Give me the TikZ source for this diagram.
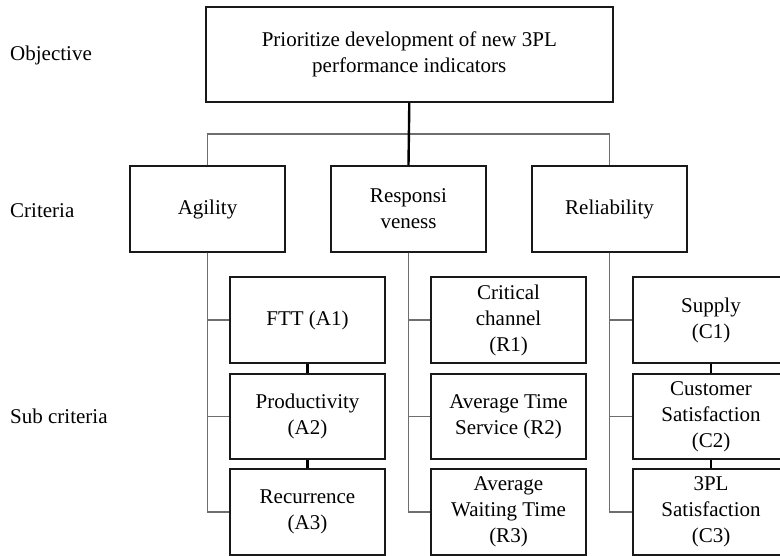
\documentclass[tikz,border=0pt]{standalone}
\usepackage{fontspec}
\setmainfont{Liberation Serif}
\begin{document}
\begin{tikzpicture}[x=1pt,y=-1pt,
  every node/.style={font=\fontsize{21}{26}\selectfont},
  box/.style={draw=black!90, line width=1.5pt, align=center, inner sep=0pt, minimum width=155pt},
  thinline/.style={draw={rgb,255:red,110;green,110;blue,110}, line width=1.1pt},
  thickline/.style={draw=black, line width=2.4pt},
  lbl/.style={anchor=west, inner sep=0pt}]
\clip (0,0) rectangle (780,556);
\useasboundingbox (0,0) rectangle (780,556);
% labels
\node[lbl] (lobj) at (10,55) {Objective};
\node[lbl] (lcrit) at (10,211) {Criteria};
\node[lbl] (lsub) at (10,416) {Sub criteria};
% top
\node[box, minimum width=407pt, minimum height=95pt] (top) at (409.3,54.5) {Prioritize development of new 3PL\\performance indicators};
% criteria
\node[box, minimum height=86pt] (agil) at (207.5,209) {Agility};
\node[box, minimum height=86pt] (resp) at (408.5,209) {Responsi\\veness};
\node[box, minimum height=86pt] (rel) at (609.5,209) {Reliability};
% sub criteria
\node[box, minimum height=86pt] (a1) at (307.5,320) {FTT (A1)};
\node[box, minimum height=85pt] (a2) at (307.5,416.5) {Productivity\\(A2)};
\node[box, minimum height=86pt] (a3) at (307.5,512) {Recurrence\\(A3)};
\node[box, minimum height=86pt] (r1) at (508.5,320) {Critical\\channel\\(R1)};
\node[box, minimum height=85pt] (r2) at (508.5,416.5) {Average Time\\Service (R2)};
\node[box, minimum height=86pt] (r3) at (508.5,512) {Average\\Waiting Time\\(R3)};
\node[box, minimum height=86pt, minimum width=156pt] (c1) at (711,320) {Supply\\(C1)};
\node[box, minimum height=85pt, minimum width=156pt] (c2) at (711,416.5) {Customer\\Satisfaction\\(C2)};
\node[box, minimum height=86pt, minimum width=156pt] (c3) at (711,512) {3PL\\Satisfaction\\(C3)};
% connectors
\coordinate (bar) at (408.5,134);
\draw[thinline] (agil.north) |- (bar) -| (rel.north);
\draw[thickline] (top.south) -- (resp.north);
\draw[thinline] (agil.south) |- (a1.west);
\draw[thinline] (agil.south) |- (a2.west);
\draw[thinline] (agil.south) |- (a3.west);
\draw[thinline] (resp.south) |- (r1.west);
\draw[thinline] (resp.south) |- (r2.west);
\draw[thinline] (resp.south) |- (r3.west);
\draw[thinline] (rel.south) |- (c1.west);
\draw[thinline] (rel.south) |- (c2.west);
\draw[thinline] (rel.south) |- (c3.west);
\draw[thickline] (a1.south) -- (a2.north);
\draw[thickline] (a2.south) -- (a3.north);
\draw[thickline] (c1.south) -- (c2.north);
\draw[thickline] (c2.south) -- (c3.north);
\end{tikzpicture}
\end{document}
